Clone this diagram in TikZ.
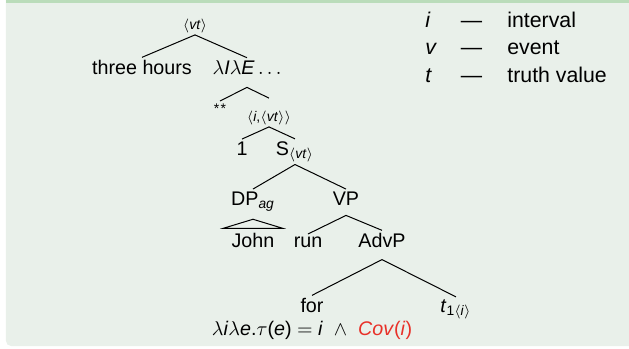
\documentclass[tikz,border=0pt]{standalone}
\usepackage{amsmath}
\usepackage{fontspec}
\setmainfont{Liberation Sans}
\usepackage{xcolor}
\usetikzlibrary{calc}

\definecolor{blockbody}{RGB}{233,240,234}
\definecolor{blockhead}{RGB}{186,220,186}
\definecolor{alertred}{RGB}{232,48,40}
\newcommand{\mi}[1]{\textit{#1}}
\newcommand{\typ}[1]{\ensuremath{\langle\text{#1}\rangle}}

\begin{document}
\begin{tikzpicture}[x=0.5pt,y=-0.5pt,
    lbl/.style={font=\fontsize{9.85}{12}\selectfont, inner sep=1pt, anchor=base},
    tylbl/.style={font=\fontsize{7}{8}\selectfont, inner sep=1pt, anchor=base},
    leg/.style={font=\fontsize{10.65}{13}\selectfont, inner sep=0pt, anchor=base west},
    branch/.style={line width=0.5pt}]
  \useasboundingbox (0,0) rectangle (629,349);
  % block background
  \fill[blockbody, rounded corners=2.5pt] (6,-20) rectangle (660,346);
  \fill[blockhead] (6,0) rectangle (660,2.5);

  % tree
  \node[tylbl] (vt) at (195,29) {\typ{\mi{vt}}};
  \node[lbl] (three) at (142,74) {three hours};
  \node[lbl] (lam) at (247,74) {$\lambda$\mi{I}$\lambda$\mi{E}\,$\ldots$};
  \node[tylbl] (stars) at (220,113) {*\kern0.6pt*};
  \node[tylbl] (ivt) at (269,121) {\typ{\mi{i},\typ{\mi{vt}}}};
  \node[lbl] (one) at (242,155) {1};
  \node[lbl] (S) at (295,155) {S$_{\typ{\mi{vt}}}$};
  \node[lbl] (DP) at (253,205) {DP$_{\text{\mi{ag}}}$};
  \node[lbl] (VP) at (346,205) {VP};
  \node[lbl] (John) at (253,247) {John};
  \node[lbl] (run) at (308,247) {run};
  \node[lbl] (AdvP) at (382,247) {AdvP};
  \node[lbl] (for) at (312,312) {for};
  \node[lbl] (t) at (456,312) {\mi{t}$_{\text{1}\typ{\mi{i}}}$};
  \node[lbl] (cov) at (312,335) {$\lambda$\mi{i}$\lambda$\mi{e}.$\tau$(\mi{e}) $=$ \mi{i} \ $\wedge$ \ \textcolor{alertred}{\mi{Cov}(\mi{i})}};

  \coordinate (lamfork) at ($(lam.south)+(0,11)$);
  \coordinate (vpfork) at ($(VP.south)+(0,8)$);
  \coordinate (advfork) at ($(AdvP.south)+(0,10)$);

  \draw[branch] (vt.south) -- (three.north);
  \draw[branch] (vt.south) -- (lam.north);
  \draw[branch] (lamfork) -- (stars.north);
  \draw[branch] (lamfork) -- ($(ivt.north)+(0,-10)$);
  \draw[branch] (ivt.south) -- (one.north);
  \draw[branch] (ivt.south) -- (S.north);
  \draw[branch] (S.south) -- (DP.north);
  \draw[branch] (S.south) -- (VP.north);
  \draw[branch] ($(DP.south)+(0,6)$) -- ($(John.north west)+(-6,-2)$) -- ($(John.north east)+(6,-2)$) -- cycle;
  \draw[branch] (vpfork) -- (run.north);
  \draw[branch] (vpfork) -- (AdvP.north);
  \draw[branch] (advfork) -- (for.north);
  \draw[branch] (advfork) -- (t.north);

  % legend
  \foreach \sym/\word [count=\k] in {i/interval, v/event, t/truth value} {
    \node[leg] (sym\k) at (425,{27.5*\k-0.5}) {\mi{\sym}};
    \node[leg, anchor=base] (dash\k) at (471.5,{27.5*\k-0.5}) {---};
    \node[leg] (word\k) at (507,{27.5*\k-0.5}) {\word};
  }
\end{tikzpicture}
\end{document}
